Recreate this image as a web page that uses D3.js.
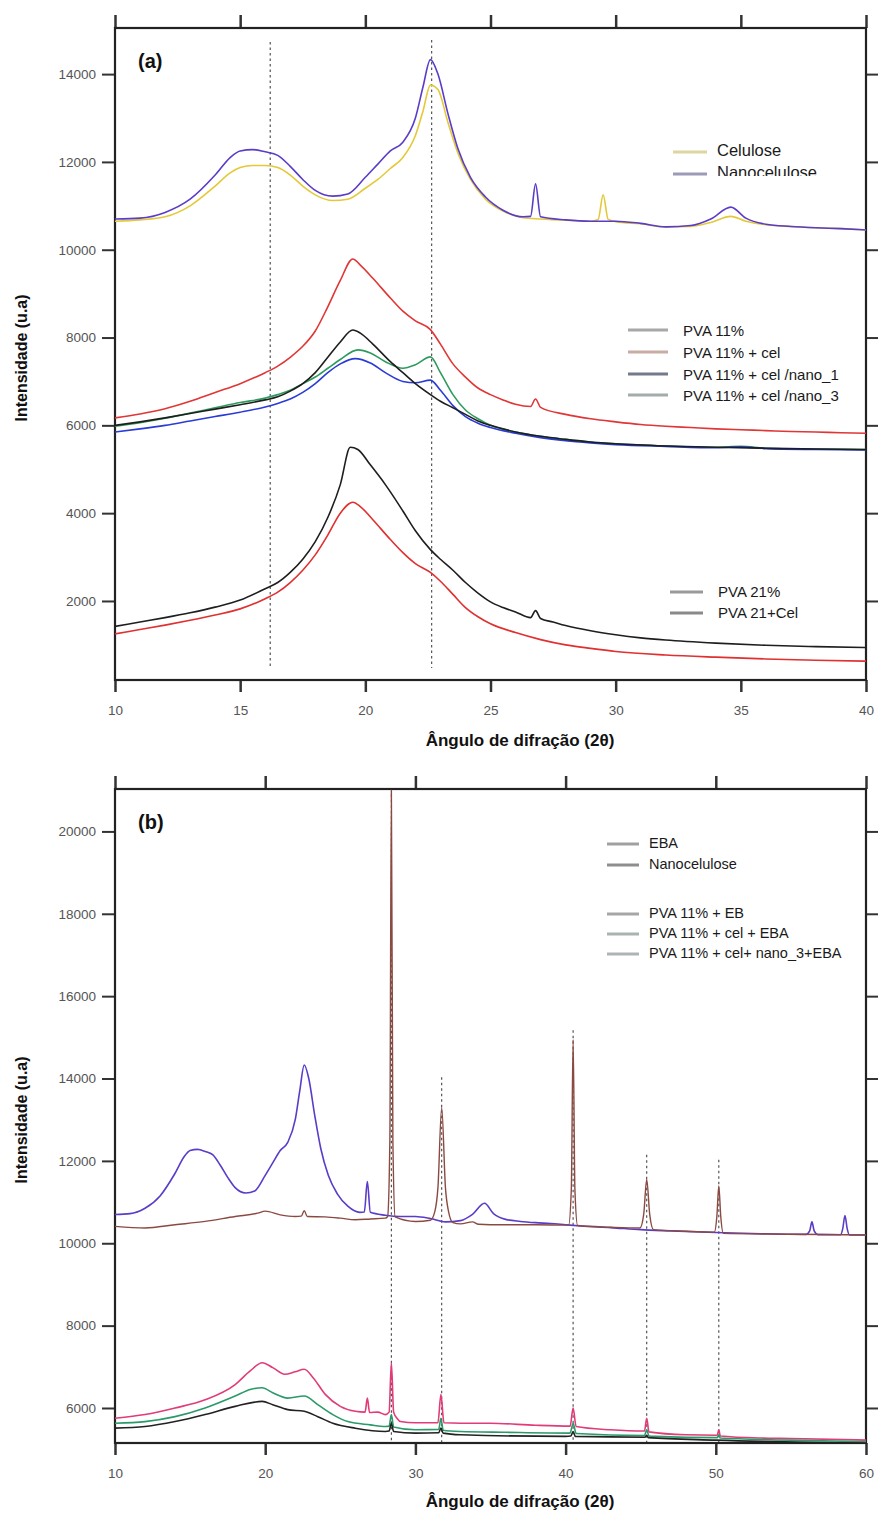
<!DOCTYPE html>
<html><head><meta charset="utf-8">
<script src="https://cdn.jsdelivr.net/npm/d3@7"></script>
<style>body{margin:0;background:#fff}svg{display:block;font-family:"Liberation Sans",Arial,sans-serif}</style>
</head><body>
<svg id="c" width="878" height="1517"></svg>
<script>
// ---------- Panel (a) data ----------
const xTicksA = [10,15,20,25,30,35,40];
const yTicksA = [2000,4000,6000,8000,10000,12000,14000];
const refLinesA = [16.2, 22.65];

const celulose = [[10,10650],[11,10680],[12,10750],[13,11000],[14,11450],[14.6,11750],[15,11870],[15.5,11920],[16,11920],[16.5,11870],[17,11700],[17.5,11450],[18,11250],[18.7,11120],[19.3,11150],[20,11400],[20.5,11600],[21,11850],[21.5,12100],[22,12600],[22.3,13150],[22.6,13750],[22.9,13650],[23.3,12900],[23.7,12200],[24.2,11600],[24.8,11150],[25.5,10880],[26.3,10730],[27,10700],[28,10670],[29,10650],[29.3,10690],[29.5,11250],[29.7,10690],[30,10640],[31,10590],[32,10520],[33,10530],[33.8,10620],[34.6,10760],[35.2,10650],[36,10570],[37,10530],[38,10500],[39,10480],[40,10450]];
const nanocelulose = [[10,10700],[11,10720],[12,10850],[13,11150],[14,11700],[14.6,12100],[15,12250],[15.5,12280],[16,12230],[16.5,12150],[17,11900],[17.5,11600],[18,11350],[18.7,11220],[19.3,11270],[20,11650],[20.5,11950],[21,12250],[21.5,12450],[22,13000],[22.3,13700],[22.6,14330],[22.9,14000],[23.3,13100],[23.7,12300],[24.2,11650],[24.8,11200],[25.5,10900],[26.3,10750],[26.6,10760],[26.8,11500],[27,10750],[28,10680],[29,10650],[30,10650],[31,10600],[32,10520],[33,10550],[33.8,10700],[34.6,10970],[35.2,10720],[36,10580],[37,10530],[38,10500],[39,10480],[40,10450]];
const nanoceluloseTail = [[41,10420],[43,10380],[45,10330],[47,10300],[50,10260],[53,10230],[56,10215],[56.25,10300],[56.4,10520],[56.55,10300],[56.8,10210],[58.3,10205],[58.45,10350],[58.6,10670],[58.75,10350],[58.9,10200],[60,10200]];

const pva11 = [[10,6000],[11,6080],[12,6170],[13,6270],[14,6370],[15,6470],[16,6580],[16.5,6650],[17,6780],[17.5,6950],[18,7200],[18.5,7550],[19,7900],[19.5,8170],[19.8,8100],[20.3,7850],[21,7450],[21.5,7200],[22,6950],[22.6,6700],[23,6550],[23.5,6400],[24,6250],[24.5,6100],[25,6000],[26,5850],[27,5750],[28,5680],[29,5620],[30,5580],[32,5530],[34,5500],[36,5480],[38,5460],[40,5450]];
const pva11Cel = [[10,6170],[11,6260],[12,6380],[13,6550],[14,6750],[15,6950],[16,7200],[16.5,7350],[17,7550],[17.5,7800],[18,8150],[18.5,8700],[19,9300],[19.5,9790],[19.8,9650],[20.3,9350],[21,8900],[21.5,8600],[22,8380],[22.6,8180],[23,7850],[23.5,7400],[24,7100],[24.5,6850],[25,6700],[25.5,6580],[26,6480],[26.6,6430],[26.8,6600],[27,6410],[28,6250],[29,6150],[30,6080],[31,6020],[32,5980],[33,5950],[34,5920],[35,5900],[36,5880],[37,5860],[38,5850],[39,5830],[40,5820]];
const pva11Nano1 = [[10,5850],[11,5920],[12,6000],[13,6100],[14,6200],[15,6300],[16,6420],[16.5,6500],[17,6600],[17.5,6750],[18,6950],[18.5,7200],[19,7400],[19.6,7520],[20.2,7420],[20.8,7200],[21.5,7000],[22,6970],[22.6,7030],[23,6800],[23.5,6450],[24,6200],[24.5,6050],[25,5950],[26,5820],[27,5720],[28,5650],[29,5600],[30,5560],[32,5520],[34,5490],[35,5510],[36,5470],[38,5450],[40,5440]];
const pva11Nano3 = [[10,5980],[11,6060],[12,6160],[13,6280],[14,6400],[15,6520],[16,6620],[16.5,6700],[17,6800],[17.5,6950],[18,7100],[18.5,7300],[19,7500],[19.7,7720],[20.2,7650],[20.8,7450],[21.5,7300],[22,7380],[22.6,7560],[23,7200],[23.5,6700],[24,6350],[24.5,6150],[25,6000],[26,5850],[27,5750],[28,5680],[29,5620],[30,5580],[32,5530],[34,5500],[35,5520],[36,5480],[38,5460],[40,5450]];

const pva21 = [[10,1420],[11,1520],[12,1620],[13,1730],[14,1860],[15,2020],[16,2280],[16.5,2420],[17,2650],[17.5,2950],[18,3350],[18.5,3900],[19,4650],[19.4,5500],[19.7,5450],[20.2,5100],[20.8,4650],[21.5,4050],[22,3600],[22.6,3170],[23,2950],[23.5,2700],[24,2420],[24.5,2180],[25,1980],[25.5,1850],[26,1750],[26.6,1620],[26.8,1780],[27,1600],[27.5,1520],[28,1440],[29,1320],[30,1230],[31,1160],[32,1110],[34,1040],[36,990],[38,960],[40,940]];
const pva21Cel = [[10,1250],[11,1350],[12,1450],[13,1560],[14,1680],[15,1820],[16,2050],[16.5,2200],[17,2420],[17.5,2700],[18,3050],[18.5,3500],[19,4000],[19.5,4250],[19.8,4150],[20.3,3850],[21,3400],[21.5,3100],[22,2850],[22.6,2650],[23,2450],[23.5,2150],[24,1850],[24.5,1640],[25,1480],[26,1280],[27,1120],[28,1000],[29,920],[30,850],[32,770],[34,720],[36,680],[38,650],[40,630]];

// ---------- Panel (b) data ----------
const xTicksB = [10,20,30,40,50,60];
const yTicksB = [6000,8000,10000,12000,14000,16000,18000,20000];
const refLinesB = [[28.4,20900],[31.75,14030],[40.5,15170],[45.4,12150],[50.2,12030]];

const eba = [[10,10410],[12,10370],[14,10450],[16,10530],[18,10650],[19.5,10730],[20,10780],[21,10690],[22,10650],[22.4,10660],[22.6,10790],[22.8,10650],[24,10640],[25,10610],[26,10570],[27,10590],[28,10610],[28.15,10650],[28.3,12500],[28.4,21000],[28.5,12500],[28.65,10640],[30,10530],[31.0,10560],[31.3,10780],[31.5,11350],[31.75,13300],[32.0,11350],[32.2,10780],[32.5,10500],[33,10470],[33.8,10520],[34.2,10460],[35,10450],[38,10450],[40.2,10440],[40.38,11300],[40.5,14940],[40.62,11300],[40.8,10430],[43,10390],[44.95,10370],[45.2,10700],[45.4,11550],[45.6,10700],[45.85,10330],[48,10290],[49.9,10270],[50.07,10650],[50.2,11390],[50.33,10650],[50.5,10240],[55,10220],[60,10200]];
const pva11EB = [[10,5510],[12,5550],[14,5670],[16,5840],[18,6040],[19.8,6160],[20.5,6080],[21.5,5960],[22.6,5920],[23.5,5790],[24.5,5630],[26,5510],[28,5430],[28.25,5440],[28.4,5630],[28.55,5430],[30,5390],[31.55,5400],[31.7,5510],[31.85,5390],[33,5350],[40,5310],[40.35,5320],[40.5,5430],[40.65,5310],[45.3,5290],[45.4,5340],[45.5,5280],[50,5220],[60,5140]];
const pva11CelEBA = [[10,5630],[12,5670],[14,5790],[16,6000],[18,6290],[19,6450],[19.8,6490],[20.5,6370],[21.5,6240],[22.6,6290],[23.5,6080],[24.5,5840],[25.5,5670],[27,5590],[28,5550],[28.25,5560],[28.4,5840],[28.55,5540],[30,5470],[31.55,5480],[31.7,5750],[31.85,5460],[33,5430],[36,5410],[40.3,5390],[40.5,5630],[40.7,5380],[45.25,5330],[45.4,5470],[45.55,5320],[46,5310],[50.1,5280],[50.2,5350],[50.3,5270],[55,5220],[60,5180]];
const pva11CelNano3EBA = [[10,5750],[12,5840],[14,6000],[16,6200],[18,6570],[19,6900],[19.8,7100],[20.5,6980],[21.3,6820],[22,6880],[22.6,6940],[23.2,6730],[24,6330],[25,6040],[26,5920],[26.65,5900],[26.8,6240],[26.95,5890],[27.5,5900],[28,5840],[28.25,5900],[28.4,7100],[28.55,5900],[28.8,5740],[29,5670],[30,5640],[31.5,5640],[31.7,6330],[31.9,5640],[33,5630],[35,5630],[38,5580],[40.3,5560],[40.5,6000],[40.7,5550],[43,5470],[45.25,5440],[45.4,5750],[45.55,5420],[48,5350],[50.1,5340],[50.2,5470],[50.3,5320],[53,5270],[55,5260],[60,5220]];

// ---------- Drawing ----------
const svg = d3.select("#c");
const L = 115, R = 866;

function panel(cfg){
  const g = svg.append("g");
  const x = d3.scaleLinear().domain(cfg.xDomain).range([L, R]);
  const y = d3.scaleLinear().domain(cfg.yDomain).range([cfg.bottom, cfg.top]);
  const tickCol = "#555";
  g.append("g").attr("transform",`translate(${L},0)`)
    .call(d3.axisLeft(y).tickValues(cfg.yTicks).tickSize(13).tickPadding(6).tickFormat(d3.format("d")))
    .call(s=>{s.select(".domain").remove();s.selectAll("line").attr("stroke","#333").attr("stroke-width",2);
      s.selectAll("text").attr("fill",tickCol).style("font-size","13.5px").style("font-family","Liberation Sans, Arial");});
  g.append("g").attr("transform",`translate(${R},0)`)
    .call(d3.axisRight(y).tickValues(cfg.yTicks).tickSize(12).tickFormat(""))
    .call(s=>{s.select(".domain").remove();s.selectAll("line").attr("stroke","#333").attr("stroke-width",2);});
  g.append("g").attr("transform",`translate(0,${cfg.bottom})`)
    .call(d3.axisBottom(x).tickValues(cfg.xTicks).tickSize(12).tickPadding(13).tickFormat(d3.format("d")))
    .call(s=>{s.select(".domain").remove();s.selectAll("line").attr("stroke","#333").attr("stroke-width",2.5);
      s.selectAll("text").attr("fill",tickCol).style("font-size","13.5px").style("font-family","Liberation Sans, Arial");});
  g.append("g").attr("transform",`translate(0,${cfg.top})`)
    .call(d3.axisTop(x).tickValues(cfg.xTicks).tickSize(13).tickFormat(""))
    .call(s=>{s.select(".domain").remove();s.selectAll("line").attr("stroke","#333").attr("stroke-width",2.5);});
  g.append("rect").attr("x",L).attr("y",cfg.top).attr("width",R-L).attr("height",cfg.bottom-cfg.top)
    .attr("fill","none").attr("stroke","#222").attr("stroke-width",2.2);
  cfg.refs.forEach(r=>{
    const y1 = r.yv!=null ? y(r.yv) : r.y1;
    g.append("line").attr("x1",x(r.x)).attr("x2",x(r.x)).attr("y1",y1).attr("y2",r.y2)
      .attr("stroke","#444").attr("stroke-width",1.1).attr("stroke-dasharray","2.5,3");
  });
  const line = d3.line().x(d=>x(d[0])).y(d=>y(d[1])).curve(d3.curveMonotoneX);
  const clipId = "clip"+cfg.id;
  svg.append("clipPath").attr("id",clipId).append("rect").attr("x",L).attr("y",cfg.top).attr("width",R-L).attr("height",cfg.bottom-cfg.top);
  const cg = g.append("g").attr("clip-path",`url(#${clipId})`);
  cfg.series.forEach(s=>{
    cg.append("path").attr("d",line(s.data)).attr("fill","none").attr("stroke",s.color)
      .attr("stroke-width",s.w||1.6).attr("stroke-linejoin","round");
  });
  g.append("text").attr("x",138).attr("y",cfg.top+40).text(cfg.label)
    .style("font-weight","bold").style("font-size","20px").attr("fill","#111");
  cfg.legends.forEach(lg=>{
    const lgG = g.append("g");
    if(lg.clip){
      svg.append("clipPath").attr("id",lg.clip.id).append("rect").attr("x",0).attr("y",0).attr("width",878).attr("height",lg.clip.y);
    }
    lg.items.forEach((it,i)=>{
      lgG.append("line").attr("x1",lg.sx1).attr("x2",lg.sx2).attr("y1",lg.ys[i]-lg.off).attr("y2",lg.ys[i]-lg.off)
        .attr("stroke",it.sw).attr("stroke-width",3);
      const t = lgG.append("text").attr("x",lg.tx).attr("y",lg.ys[i]).text(it.name)
        .style("font-size",lg.fs+"px").attr("fill","#1a1a1a");
      if(lg.clip && i===lg.clip.index) t.attr("clip-path",`url(#${lg.clip.id})`);
    });
  });
  g.append("text").attr("transform",`translate(27,${cfg.yTitleY}) rotate(-90)`).attr("text-anchor","middle")
    .text("Intensidade (u.a)").style("font-weight","bold").style("font-size","16px").attr("fill","#111");
  g.append("text").attr("x",520).attr("y",cfg.xTitleY).attr("text-anchor","middle")
    .text("Ângulo de difração (2θ)").style("font-weight","bold").style("font-size","17px").attr("fill","#111");
  return {x,y};
}

const legendA1 = ["Celulose","Nanocelulose"];
const legendA2 = ["PVA 11%","PVA 11% + cel","PVA 11% + cel /nano_1","PVA 11% + cel /nano_3"];
const legendA3 = ["PVA 21%","PVA 21+Cel"];
const legendB1 = ["EBA","Nanocelulose"];
const legendB2 = ["PVA 11% + EB","PVA 11% + cel + EBA","PVA 11% + cel+ nano_3+EBA"];

panel({
  id:"A", top:28, bottom:680, xDomain:[10,40], yDomain:[200,15050],
  xTicks:xTicksA, yTicks:yTicksA, label:"(a)", yTitleY:358, xTitleY:746,
  refs: refLinesA.map((v,i)=>({x:v, y1: i===0?42:40, y2:668})),
  series:[
    {data:celulose,color:"#e3c93a"},
    {data:nanocelulose,color:"#5a3cc8"},
    {data:pva11Cel,color:"#e03636"},
    {data:pva11Nano3,color:"#2f9a5e"},
    {data:pva11Nano1,color:"#2a3bd6"},
    {data:pva11,color:"#1e1e1e"},
    {data:pva21Cel,color:"#e03030"},
    {data:pva21,color:"#1e1e1e"}
  ],
  legends:[
    {items:legendA1.map((n,i)=>({name:n,sw:["#ddd6a0","#9c9ab8"][i]})), sx1:673, sx2:707, tx:717, ys:[156,178], off:4, fs:16.5, clip:{id:"nanoClip",y:176,index:1}},
    {items:legendA2.map((n,i)=>({name:n,sw:["#a8a8a8","#c9aca4","#737a8c","#a3abab"][i]})), sx1:628, sx2:668, tx:683, ys:[336,358,380,401], off:6, fs:15},
    {items:legendA3.map((n,i)=>({name:n,sw:["#9a9a9a","#8a8a8a"][i]})), sx1:670, sx2:703, tx:718, ys:[597,618], off:5, fs:15}
  ]
});

panel({
  id:"B", top:789, bottom:1443, xDomain:[10,60], yDomain:[5150,21030],
  xTicks:xTicksB, yTicks:yTicksB, label:"(b)", yTitleY:1120, xTitleY:1507,
  refs: refLinesB.map(r=>({x:r[0], yv:r[1], y2:1442})),
  series:[
    {data:pva11CelNano3EBA,color:"#e03c78"},
    {data:pva11CelEBA,color:"#2a9a6a"},
    {data:pva11EB,color:"#222"},
    {data:nanocelulose.concat(nanoceluloseTail),color:"#5a3cc8"},
    {data:eba,color:"#8a4a42",w:1.4}
  ],
  legends:[
    {items:legendB1.map((n,i)=>({name:n,sw:["#a0a0a0","#8e8e8e"][i]})), sx1:607, sx2:639, tx:649, ys:[848,869], off:4, fs:14.5},
    {items:legendB2.map((n,i)=>({name:n,sw:["#a6a6a6","#a8b4b0","#acb4b6"][i]})), sx1:607, sx2:639, tx:649, ys:[918,938,958], off:4, fs:14.5}
  ]
});
</script>
</body></html>
